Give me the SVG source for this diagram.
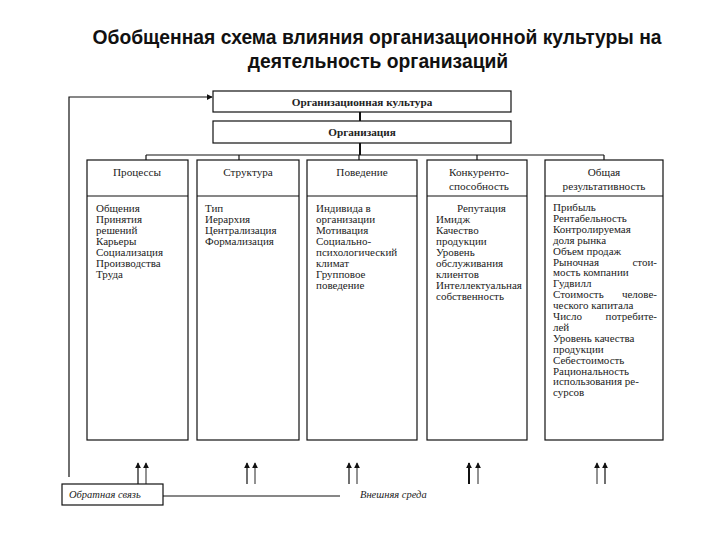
<svg xmlns="http://www.w3.org/2000/svg" width="720" height="540" viewBox="0 0 720 540">
<defs>
<style>
.title{font-family:"Liberation Sans",Arial,sans-serif;font-weight:bold;font-size:19.3px;fill:#111;text-anchor:middle}
.box{fill:#fff;stroke:#111;stroke-width:1.2}
.hd{font-family:"Liberation Serif","Times New Roman",serif;font-size:11.2px;fill:#222;text-anchor:middle}
.tb{font-family:"Liberation Serif","Times New Roman",serif;font-size:11.2px;font-weight:bold;fill:#222;text-anchor:middle}
.bd{font-family:"Liberation Serif","Times New Roman",serif;font-size:11px;fill:#222}
.it{font-family:"Liberation Serif","Times New Roman",serif;font-size:10.5px;font-style:italic;fill:#222}
.ln{fill:none;stroke:#111;stroke-width:1.2}
.ar{fill:none;stroke:#111;stroke-width:1.2;marker-end:url(#ah)}
.ag{fill:none;stroke:#777;stroke-width:1.6;marker-end:url(#ahg)}
</style>
<marker id="ah" viewBox="0 0 8 8" refX="7" refY="4" markerWidth="6" markerHeight="6" orient="auto" markerUnits="userSpaceOnUse"><path d="M0,0 L8,4 L0,8 z" fill="#111"/></marker>
<marker id="ahg" viewBox="0 0 8 8" refX="7" refY="4" markerWidth="6" markerHeight="6" orient="auto" markerUnits="userSpaceOnUse"><path d="M0,0 L8,4 L0,8 z" fill="#111"/></marker>
</defs>
<rect width="720" height="540" fill="#fff"/>
<text class="title" x="377" y="44">Обобщенная схема влияния организационной культуры на</text>
<text class="title" x="378" y="68">деятельность организаций</text>

<g id="connectors">
<path class="ln" d="M360,112 V121" style="stroke-width:2"/>
<path class="ln" d="M360,143 V155" style="stroke-width:2"/>
<path class="ln" d="M146,155 H604"/>
<path class="ln" d="M146,155 V160 M239,155 V160 M359,155 V160 M477,155 V160 M604,155 V160"/>
<path class="ar" d="M69,477 V97 H212"/>
<path class="ln" d="M163,496 H340"/>
<path class="ar" d="M138,484 V463"/>
<path class="ag" d="M146,484 V463"/>
<path class="ar" d="M247,484 V463"/>
<path class="ag" d="M255,484 V463"/>
<path class="ar" d="M349,484 V463"/>
<path class="ag" d="M357,484 V463"/>
<path class="ar" d="M469,484 V463" style="stroke-width:2"/>
<path class="ag" d="M478,484 V463"/>
<path class="ag" d="M597,484 V463"/>
<path class="ar" d="M605,484 V463"/>
</g>

<g id="culture">
<rect class="box" x="213" y="91" width="298" height="21"/>
<text class="tb" x="362" y="106">Организационная культура</text>
</g>
<g id="organization">
<rect class="box" x="213" y="121" width="298" height="22"/>
<text class="tb" x="362" y="136">Организация</text>
</g>

<g id="processes">
<rect class="box" x="87" y="160" width="101" height="280"/>
<path class="ln" d="M87,196 H188"/>
<text class="hd" x="137" y="176">Процессы</text>
<text class="bd" x="96" y="212">Общения</text>
<text class="bd" x="96" y="223">Принятия</text>
<text class="bd" x="96" y="234">решений</text>
<text class="bd" x="96" y="245">Карьеры</text>
<text class="bd" x="96" y="256">Социализация</text>
<text class="bd" x="96" y="267">Производства</text>
<text class="bd" x="96" y="278">Труда</text>
</g>

<g id="structure">
<rect class="box" x="197" y="160" width="102" height="280"/>
<path class="ln" d="M197,196 H299"/>
<text class="hd" x="248" y="176">Структура</text>
<text class="bd" x="205" y="212">Тип</text>
<text class="bd" x="205" y="223">Иерархия</text>
<text class="bd" x="205" y="234">Централизация</text>
<text class="bd" x="205" y="245">Формализация</text>
</g>

<g id="behavior">
<rect class="box" x="307" y="160" width="110" height="280"/>
<path class="ln" d="M307,196 H417"/>
<text class="hd" x="362" y="176">Поведение</text>
<text class="bd" x="316" y="212">Индивида в</text>
<text class="bd" x="316" y="223">организации</text>
<text class="bd" x="316" y="234">Мотивация</text>
<text class="bd" x="316" y="245">Социально-</text>
<text class="bd" x="316" y="256">психологический</text>
<text class="bd" x="316" y="267">климат</text>
<text class="bd" x="316" y="278">Групповое</text>
<text class="bd" x="316" y="289">поведение</text>
</g>

<g id="competitiveness">
<rect class="box" x="427" y="160" width="100" height="280"/>
<path class="ln" d="M427,196 H527"/>
<text class="hd" x="479" y="176">Конкуренто-</text>
<text class="hd" x="479" y="190">способность</text>
<text class="bd" x="457" y="212">Репутация</text>
<text class="bd" x="436" y="223">Имидж</text>
<text class="bd" x="436" y="234">Качество</text>
<text class="bd" x="436" y="245">продукции</text>
<text class="bd" x="436" y="256">Уровень</text>
<text class="bd" x="436" y="267">обслуживания</text>
<text class="bd" x="436" y="278">клиентов</text>
<text class="bd" x="436" y="289">Интеллектуальная</text>
<text class="bd" x="436" y="300">собственность</text>
</g>

<g id="performance">
<rect class="box" x="545" y="160" width="118" height="280"/>
<path class="ln" d="M545,196 H663"/>
<text class="hd" x="604" y="176">Общая</text>
<text class="hd" x="604" y="190">результативность</text>
<text class="bd" x="553" y="211">Прибыль</text>
<text class="bd" x="553" y="221.9">Рентабельность</text>
<text class="bd" x="553" y="232.8">Контролируемая</text>
<text class="bd" x="553" y="243.7">доля рынка</text>
<text class="bd" x="553" y="254.6">Объем продаж</text>
<text class="bd" y="265.5"><tspan x="553">Рыночная</tspan><tspan x="657" text-anchor="end">стои-</tspan></text>
<text class="bd" x="553" y="276.4">мость компании</text>
<text class="bd" x="553" y="287.3">Гудвилл</text>
<text class="bd" y="298.2"><tspan x="553">Стоимость</tspan><tspan x="657" text-anchor="end">челове-</tspan></text>
<text class="bd" x="553" y="309.1">ческого капитала</text>
<text class="bd" y="320"><tspan x="553">Число</tspan><tspan x="657" text-anchor="end">потребите-</tspan></text>
<text class="bd" x="553" y="330.9">лей</text>
<text class="bd" x="553" y="341.8">Уровень качества</text>
<text class="bd" x="553" y="352.7">продукции</text>
<text class="bd" x="553" y="363.6">Себестоимость</text>
<text class="bd" x="553" y="374.5">Рациональность</text>
<text class="bd" x="553" y="385.4">использования ре-</text>
<text class="bd" x="553" y="396.3">сурсов</text>
</g>

<g id="feedback">
<rect class="box" x="62" y="484" width="101" height="21"/>
<text class="it" x="69" y="498">Обратная связь</text>
</g>
<g id="environment">
<text class="it" x="360" y="498">Внешняя среда</text>
</g>
</svg>
